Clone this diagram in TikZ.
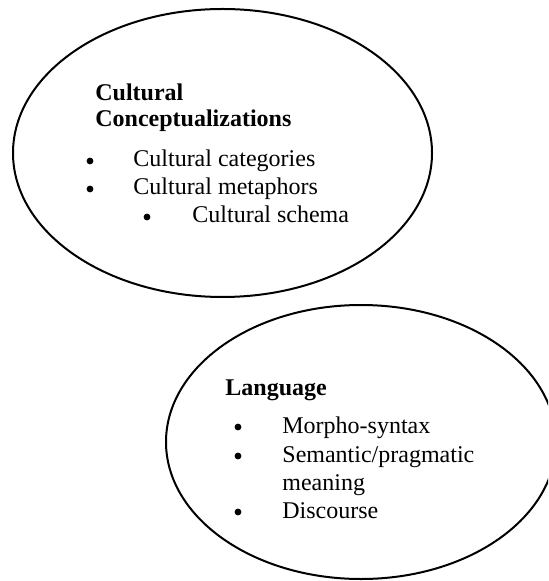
\documentclass[tikz,border=0pt]{standalone}
\usepackage{fontspec}
\setmainfont{Liberation Serif}
\usetikzlibrary{positioning, shapes.geometric}

\tikzset{
    bubble/.style={draw, ellipse, line width=1pt, inner sep=0pt},
    heading/.style={anchor=base west, inner sep=0pt, font=\fontsize{12}{14}\selectfont\bfseries},
    entry/.style={anchor=base west, inner sep=0pt, font=\fontsize{12}{14}\selectfont},
    dot/.style={circle, fill, inner sep=0pt, minimum size=3.4pt},
}

\begin{document}
\begin{tikzpicture}[x=0.5pt, y=-0.5pt]
    \clip (0,0) rectangle (548,581);
    % Upper ellipse
    \node[bubble, minimum width=209.5pt, minimum height=144pt] (culture) at (222.5,153) {};
    \node[heading] (cultureA) at (95,101) {Cultural};
    \node[heading] (cultureB) at (95,127) {Conceptualizations};
    \node[dot] (dotA) at (90,161) {};
    \node[entry] (categories) at (133,167) {Cultural categories};
    \node[dot] (dotB) at (90,189) {};
    \node[entry] (metaphors) at (133,195) {Cultural metaphors};
    \node[dot] (dotC) at (147,217) {};
    \node[entry] (schema) at (192,223) {Cultural schema};
    % Lower ellipse
    \node[bubble, minimum width=195pt, minimum height=137pt] (language) at (361,442) {};
    \node[heading] (languageA) at (225,395) {Language};
    \node[dot] (dotD) at (238,427) {};
    \node[entry] (morpho) at (282,433) {Morpho-syntax};
    \node[dot] (dotE) at (238,456) {};
    \node[entry] (semantic) at (282,462) {Semantic/pragmatic};
    \node[entry] (meaning) at (282,490) {meaning};
    \node[dot] (dotF) at (238,512) {};
    \node[entry] (discourse) at (282,518) {Discourse};
\end{tikzpicture}
\end{document}
